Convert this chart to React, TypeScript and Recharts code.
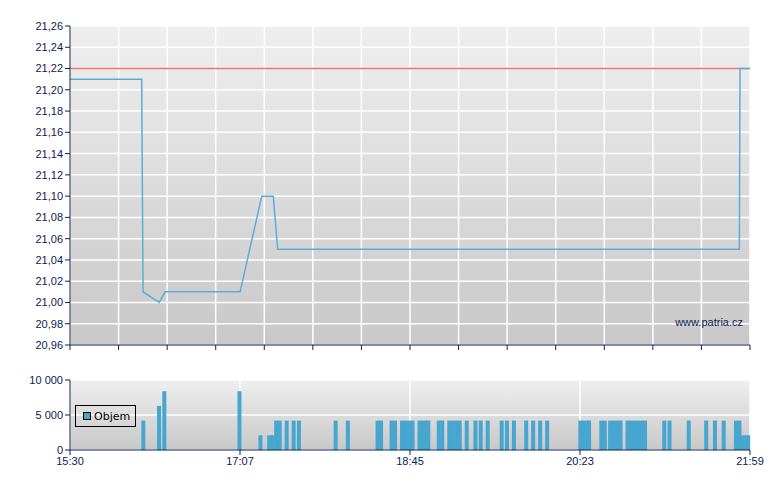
import React from "react";
import {
  LineChart,
  Line,
  BarChart,
  Bar,
  XAxis,
  YAxis,
  CartesianGrid,
  ReferenceLine,
  Legend,
} from "recharts";

// session 15:30 - 21:59, x values are minutes since 15:30
const SESSION_MINUTES = 389;
const TIME_LABELS = ["15:30", "17:07", "18:45", "20:23", "21:59"];

// price trace
const PRICE_TIMES = [0, 41, 41.8, 51, 54.5, 97.3, 109.7, 116.3, 118.8, 382.9, 383.3, 389];
const PRICES = [21.21, 21.21, 21.01, 21.0, 21.01, 21.01, 21.1, 21.1, 21.05, 21.05, 21.22, 21.22];
const PREV_CLOSE = 21.22;
const PRICE_TICKS = [
  20.96, 20.98, 21.0, 21.02, 21.04, 21.06, 21.08, 21.1, 21.12, 21.14, 21.16, 21.18,
  21.2, 21.22, 21.24, 21.26,
];

// traded volume
const VOLUME_TIMES = [
  42, 51, 54, 97, 109, 114, 116, 118, 120, 124, 128, 131, 152, 159, 176, 178, 184, 186,
  190, 192, 194, 196, 200, 202, 204, 205, 211, 213, 217, 219, 221, 223, 227, 232, 235,
  239, 247, 250, 254, 261, 265, 269, 273, 292, 294, 296, 297, 304, 306, 309, 311, 313,
  315, 319, 321, 323, 325, 327, 329, 340, 343, 354, 364, 369, 374, 381, 383, 385, 387, 388,
];
const VOLUMES = [
  4200, 6300, 8400, 8400, 2100, 2100, 2100, 4200, 4200, 4200, 4200, 4200, 4200, 4200,
  4200, 4200, 4200, 4200, 4200, 4200, 4200, 4200, 4200, 4200, 4200, 4200, 4200, 4200,
  4200, 4200, 4200, 4200, 4200, 4200, 4200, 4200, 4200, 4200, 4200, 4200, 4200, 4200,
  4200, 4200, 4200, 4200, 4200, 4200, 4200, 4200, 4200, 4200, 4200, 4200, 4200, 4200,
  4200, 4200, 4200, 4200, 4200, 4200, 4200, 4200, 4200, 4200, 4200, 2100, 2100, 2100,
];
const VOLUME_TICKS = [0, 5000, 10000];

const NAVY = "#0b2255";
const LINE_BLUE = "#58aed7";
const BAR_BLUE = "#46a6cf";
const RED = "#e87474";

const priceData = PRICE_TIMES.map((t, i) => ({ t, price: PRICES[i] }));
const volumeData = VOLUME_TIMES.map((t, i) => ({ t, volume: VOLUMES[i] }));

// 14 equal steps on the price chart, 4 labelled steps on the volume chart
const minorTicks = Array.from({ length: 15 }, (_, i) => (SESSION_MINUTES * i) / 14);
const labelTicks = TIME_LABELS.map((_, i) => (SESSION_MINUTES * i) / 4);

const tickStyle = { fontSize: 11, fill: NAVY, fontFamily: "'Liberation Sans', Arial, sans-serif" };

const VolumeBar = (props: any) => {
  const { x, y, width, height } = props;
  if (!height || height <= 0) return null;
  return <rect x={x + width / 2 - 2} y={y} width={4} height={height} fill={BAR_BLUE} />;
};

const LegendBox = () => (
  <div
    style={{
      width: 59,
      height: 20,
      border: "1px solid #000",
      display: "flex",
      alignItems: "center",
      fontFamily: "'DejaVu Sans', Verdana, sans-serif",
      fontSize: 11,
      color: "#000",
    }}
  >
    <span
      style={{
        display: "inline-block",
        width: 6,
        height: 6,
        border: "1px solid #000",
        background: BAR_BLUE,
        marginLeft: 7,
        marginRight: 3,
      }}
    />
    Objem
  </div>
);

export default function App() {
  return (
    <div
      style={{
        position: "absolute",
        left: 0,
        top: 0,
        width: 780,
        height: 490,
        background: "#fff",
        fontFamily: "'Liberation Sans', Arial, sans-serif",
      }}
    >
      <div style={{ position: "absolute", left: 0, top: 0 }}>
        <LineChart
          width={780}
          height={360}
          data={priceData}
          margin={{ top: 26, right: 30, bottom: 0, left: 0 }}
        >
          <defs>
            <linearGradient id="bgPrice" x1="0" y1="0" x2="0" y2="1">
              <stop offset="0%" stopColor="#efefef" />
              <stop offset="100%" stopColor="#c8c8c8" />
            </linearGradient>
          </defs>
          <CartesianGrid fill="url(#bgPrice)" stroke="#fff" strokeWidth={1.5} />
          <XAxis
            type="number"
            dataKey="t"
            domain={[0, SESSION_MINUTES]}
            ticks={minorTicks}
            interval={0}
            tickFormatter={() => ""}
            height={15}
            tickSize={5}
            axisLine={{ stroke: NAVY }}
            tickLine={{ stroke: NAVY }}
          />
          <YAxis
            domain={[20.96, 21.26]}
            ticks={PRICE_TICKS}
            interval={0}
            width={70}
            tickSize={5}
            tick={tickStyle}
            tickFormatter={(v: number) => v.toFixed(2).replace(".", ",")}
            axisLine={{ stroke: NAVY }}
            tickLine={{ stroke: NAVY }}
          />
          <ReferenceLine y={PREV_CLOSE} stroke={RED} strokeWidth={1.5} />
          <Line
            type="linear"
            dataKey="price"
            stroke={LINE_BLUE}
            strokeWidth={1.5}
            dot={false}
            isAnimationActive={false}
          />
        </LineChart>
      </div>

      <div
        style={{
          position: "absolute",
          right: 37,
          top: 316,
          fontSize: 11,
          lineHeight: "13px",
          color: NAVY,
        }}
      >
        www.patria.cz
      </div>

      <div style={{ position: "absolute", left: 0, top: 360 }}>
        <BarChart
          width={780}
          height={130}
          data={volumeData}
          margin={{ top: 20, right: 30, bottom: 10, left: 0 }}
        >
          <defs>
            <linearGradient id="bgVolume" x1="0" y1="0" x2="0" y2="1">
              <stop offset="0%" stopColor="#efefef" />
              <stop offset="100%" stopColor="#c8c8c8" />
            </linearGradient>
          </defs>
          <CartesianGrid fill="url(#bgVolume)" stroke="#fff" strokeWidth={1.5} />
          <XAxis
            type="number"
            dataKey="t"
            domain={[0, SESSION_MINUTES]}
            ticks={labelTicks}
            interval={0}
            tickFormatter={(_v: number, i: number) => TIME_LABELS[i]}
            height={30}
            tickSize={5}
            tick={tickStyle}
            axisLine={{ stroke: NAVY }}
            tickLine={{ stroke: NAVY }}
          />
          <YAxis
            domain={[0, 10000]}
            ticks={VOLUME_TICKS}
            interval={0}
            width={70}
            tickSize={5}
            tick={tickStyle}
            tickFormatter={(v: number) => v.toLocaleString("en-US").replace(/,/g, " ")}
            axisLine={{ stroke: NAVY }}
            tickLine={{ stroke: NAVY }}
          />
          <Legend
            layout="horizontal"
            verticalAlign="middle"
            align="center"
            content={() => <LegendBox />}
            wrapperStyle={{ left: 75, top: 45, width: 61, height: 22 }}
          />
          <Bar
            dataKey="volume"
            name="Objem"
            fill={BAR_BLUE}
            barSize={4}
            shape={VolumeBar}
            isAnimationActive={false}
          />
        </BarChart>
      </div>
    </div>
  );
}
